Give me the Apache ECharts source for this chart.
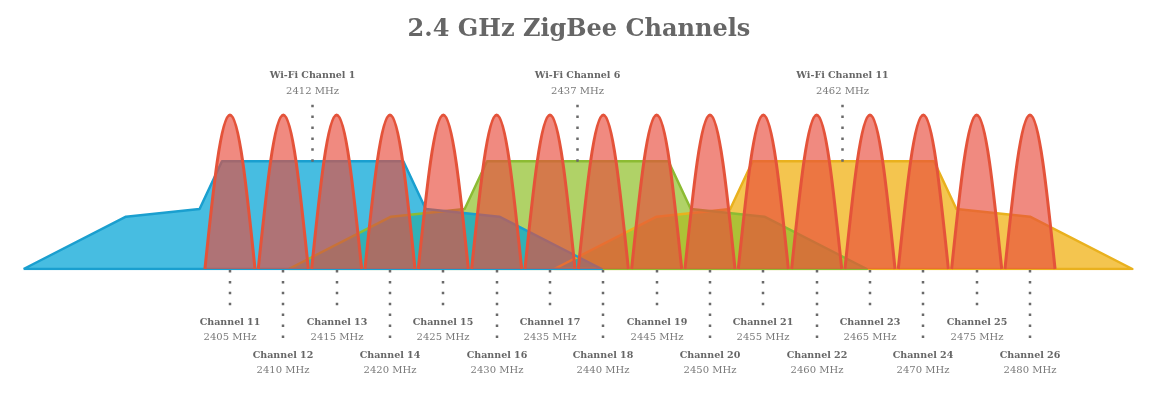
<!DOCTYPE html>
<html>
<head>
<meta charset="utf-8">
<title>2.4 GHz ZigBee Channels</title>
<script src="https://cdn.jsdelivr.net/npm/echarts@6/dist/echarts.min.js"></script>
<style>
html, body { margin: 0; padding: 0; background: #fff; }
#chart { width: 1158px; height: 398px; }
</style>
</head>
<body>
<div id="chart"></div>
<script>
// ZigBee channels, one hump each
var zigChannels = [11, 12, 13, 14, 15, 16, 17, 18, 19, 20, 21, 22, 23, 24, 25, 26]
var zigFreqs = [2405, 2410, 2415, 2420, 2425, 2430, 2435, 2440, 2445, 2450, 2455, 2460, 2465, 2470, 2475, 2480]
var zigLevel = 100

// Wi-Fi channels (centers as they sit in the picture)
var wifiChannels = [1, 6, 11]
var wifiFreqs = [2412, 2437, 2462]
var wifiCenters = [2412.75, 2437.6, 2462.5]

// Wi-Fi spectral mask: offset from center (MHz) and level
var maskOffsets = [-27.1, -17.5, -10.6, -8.5, 8.5, 10.6, 17.5, 27.1]
var maskLevels = [0, 34, 39, 70, 70, 39, 34, 0]

var FONT = '"DejaVu Serif", serif'
var HUMP_HALF = 2.35 // half width of a ZigBee hump, MHz

var maskColors = [
  { fill: 'rgba(0,163,214,0.72)', line: '#1a9fcf' },
  { fill: 'rgba(145,192,45,0.72)', line: '#8cbb33' },
  { fill: 'rgba(240,178,20,0.75)', line: '#e9b11e' }
]

function maskData (c) {
  var d = maskOffsets.map(function (o, i) { return [c + o, maskLevels[i]] })
  d.push([c + maskOffsets[0], maskLevels[0]]) // close along the base
  return d
}

var chart = echarts.init(document.getElementById('chart'))

var series = []
// yellow first, blue last (blue sits on top)
for (var i = wifiCenters.length - 1; i >= 0; i--) {
  series.push({
    type: 'line',
    name: 'Wi-Fi Channel ' + wifiChannels[i],
    data: maskData(wifiCenters[i]),
    symbol: 'none',
    silent: true,
    z: 2,
    lineStyle: { color: maskColors[i].line, width: 2.5, join: 'round' },
    areaStyle: { color: maskColors[i].fill, opacity: 1 }
  })
}

// ZigBee humps, above the masks
series.push({
  type: 'custom',
  silent: true,
  z: 5,
  data: zigFreqs.map(function (f) { return [f, zigLevel] }),
  renderItem: function (params, api) {
    var c = api.value(0)
    var h = api.value(1)
    var l = api.coord([c - HUMP_HALF, 0])
    var r = api.coord([c + HUMP_HALF, 0])
    var t = api.coord([c, h])
    var w = t[0] - l[0]
    var yb = l[1]
    var yt = t[1]
    var k = 0.5123 * (yb - yt)
    var d = 'M' + l[0] + ' ' + yb +
      ' C' + (l[0] + 0.3261 * w) + ' ' + (yb - k) + ' ' + (l[0] + 0.6381 * w) + ' ' + yt + ' ' + t[0] + ' ' + yt +
      ' C' + (t[0] + 0.3619 * w) + ' ' + yt + ' ' + (t[0] + 0.6739 * w) + ' ' + (yb - k) + ' ' + r[0] + ' ' + yb
    return {
      type: 'path',
      shape: { pathData: d },
      style: { fill: 'rgba(232,76,60,0.65)', stroke: '#e4533a', lineWidth: 3, lineJoin: 'round' }
    }
  }
})

// ZigBee labels under the axis, two rows
series.push({
  type: 'custom',
  silent: true,
  clip: false,
  z: 6,
  data: zigFreqs.map(function (f, i) { return [f, 0, zigChannels[i]] }),
  renderItem: function (params, api) {
    var p = api.coord([api.value(0), 0])
    var low = params.dataIndex % 2 === 1
    var x = Math.round(p[0])
    var y0 = p[1] + 1
    return {
      type: 'group',
      children: [
        {
          type: 'line',
          shape: { x1: x, y1: y0, x2: x, y2: y0 + (low ? 69 : 36) },
          style: { stroke: '#6a6a6a', lineWidth: 2.5, lineDash: [2.5, 8.4] }
        },
        {
          type: 'text',
          x: x,
          y: y0 + (low ? 86 : 53),
          style: { text: 'Channel ' + api.value(2), font: 'bold 9.5px ' + FONT, fill: '#666', align: 'center', verticalAlign: 'middle' }
        },
        {
          type: 'text',
          x: x,
          y: y0 + (low ? 100 : 67),
          style: { text: api.value(0) + ' MHz', font: '10px ' + FONT, fill: '#7a7a7a', align: 'center', verticalAlign: 'middle' }
        }
      ]
    }
  }
})

// Wi-Fi labels above the masks
series.push({
  type: 'custom',
  silent: true,
  clip: false,
  z: 6,
  data: wifiCenters.map(function (c, i) { return [c, maskLevels[3], wifiChannels[i], wifiFreqs[i]] }),
  renderItem: function (params, api) {
    var p = api.coord([api.value(0), api.value(1)])
    var x = Math.round(p[0]) - 0.5
    var yt = p[1]
    return {
      type: 'group',
      children: [
        {
          type: 'line',
          shape: { x1: x, y1: yt + 0.5, x2: x, y2: yt - 57 },
          style: { stroke: '#6a6a6a', lineWidth: 2.5, lineDash: [2.5, 8.4] }
        },
        {
          type: 'text',
          x: x,
          y: yt - 85.5,
          style: { text: 'Wi-Fi Channel ' + api.value(2), font: 'bold 9.5px ' + FONT, fill: '#666', align: 'center', verticalAlign: 'middle' }
        },
        {
          type: 'text',
          x: x,
          y: yt - 70,
          style: { text: api.value(3) + ' MHz', font: '10px ' + FONT, fill: '#7a7a7a', align: 'center', verticalAlign: 'middle' }
        }
      ]
    }
  }
})

chart.setOption({
  animation: false,
  backgroundColor: '#fff',
  title: {
    text: '2.4 GHz ZigBee Channels',
    left: 'center',
    top: 13,
    textStyle: { fontFamily: FONT, fontSize: 24, fontWeight: 'bold', color: '#666' }
  },
  grid: { left: 0, right: 0, top: 115, bottom: 129 },
  xAxis: { type: 'value', min: 2383.44, max: 2492, show: false },
  yAxis: { type: 'value', min: 0, max: 100, show: false },
  series: series
})
</script>
</body>
</html>
